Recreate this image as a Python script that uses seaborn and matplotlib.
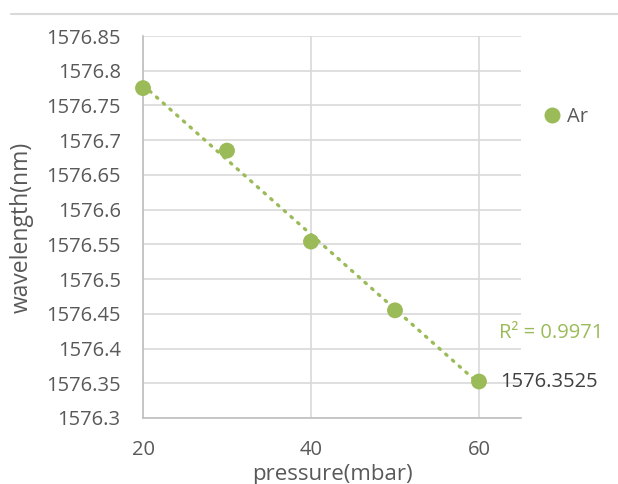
import numpy as np
import pandas as pd
import seaborn as sns
import matplotlib.pyplot as plt
from matplotlib.lines import Line2D

# datos
presion = [20, 30, 40, 50, 60]
longitud_onda = [1576.775, 1576.685, 1576.554, 1576.455, 1576.3525]
serie = "Ar"
r2_texto = "R² = 0.9971"
etiqueta_punto = "1576.3525"

x_ticks = [20, 40, 60]
y_ticks = [1576.3, 1576.35, 1576.4, 1576.45, 1576.5, 1576.55, 1576.6,
           1576.65, 1576.7, 1576.75, 1576.8, 1576.85]
y_tick_labels = ["1576.3", "1576.35", "1576.4", "1576.45", "1576.5", "1576.55",
                 "1576.6", "1576.65", "1576.7", "1576.75", "1576.8", "1576.85"]

verde = "#9BBB59"
gris_texto = "#595959"
gris_rejilla = "#D9D9D9"
tam = 14.5

sns.set_style("white")
plt.rcParams["font.family"] = ["Open Sans", "DejaVu Sans"]

df = pd.DataFrame({"presion": presion, "longitud": longitud_onda})

fig = plt.figure(figsize=(6.18, 4.84), dpi=100)
ax = fig.add_axes([0.2314, 0.1364, 0.8430 - 0.2314, 0.9256 - 0.1364])

# linea de tendencia punteada
sns.regplot(data=df, x="presion", y="longitud", ax=ax, ci=None, scatter=False,
            line_kws=dict(color=verde, lw=2.4, linestyle=(0, (0.5, 2.2)),
                          dash_capstyle="round", zorder=3))

sns.scatterplot(data=df, x="presion", y="longitud", ax=ax, color=verde,
                s=130, edgecolor="none", zorder=4, clip_on=False)

ax.set_xlim(20, 65)
ax.set_ylim(1576.3, 1576.85)
ax.set_xticks(x_ticks)
ax.set_yticks(y_ticks)
ax.set_yticklabels(y_tick_labels)
ax.tick_params(axis="both", length=0, labelsize=tam, colors=gris_texto)
ax.tick_params(axis="y", pad=16)
ax.tick_params(axis="x", pad=16)

ax.grid(True, color=gris_rejilla, lw=1.2)
ax.set_axisbelow(True)
for lado in ["top", "right"]:
    ax.spines[lado].set_visible(False)
for lado in ["left", "bottom"]:
    ax.spines[lado].set_color("#BFBFBF")
    ax.spines[lado].set_linewidth(1.2)

ax.set_xlabel("pressure(mbar)", fontsize=16, color=gris_texto, labelpad=2.5)
ax.set_ylabel("wavelength(nm)", fontsize=16.5, color=gris_texto, labelpad=9)

# etiquetas
ax.annotate(etiqueta_punto, (presion[-1], longitud_onda[-1]), xytext=(15, 0),
            textcoords="offset points", va="center", ha="left",
            fontsize=tam, color="#404040")
fig.text(0.892, 0.312, r2_texto, ha="center", va="center", fontsize=tam,
         color=verde)

# leyenda
marcador = Line2D([], [], marker="o", color=verde, ls="none", markersize=10.5)
fig.legend([marcador], [serie], loc="center left",
           bbox_to_anchor=(0.839, 0.758), frameon=False, fontsize=tam,
           labelcolor=gris_texto, handletextpad=0.0, handlelength=1.5)

# linea superior del borde
fig.add_artist(Line2D([11 / 618, 1.0], [1 - 14 / 484, 1 - 14 / 484],
                      color=gris_rejilla, lw=1.5))

fig.savefig("out.png", dpi=100)
